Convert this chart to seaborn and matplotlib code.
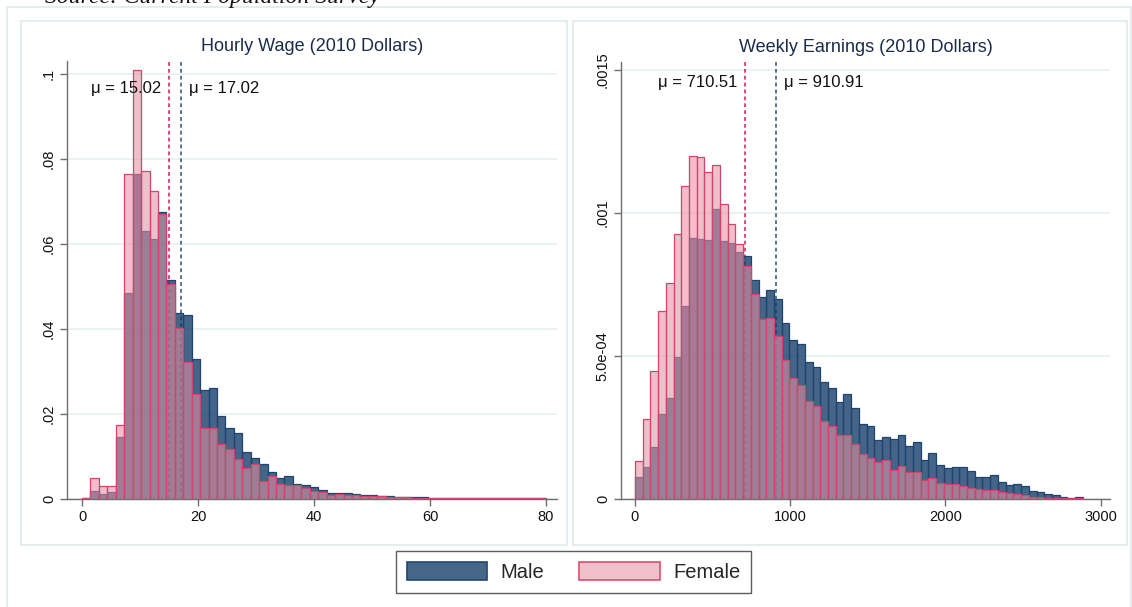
import numpy as np
import pandas as pd
import matplotlib
matplotlib.use("Agg")
import matplotlib.pyplot as plt
import seaborn as sns
from matplotlib.patches import Patch, Rectangle

# bin heights (density)
wage_edges_range = (0, 80)
wage_male = [0.0003, 0.0019, 0.0012, 0.0017, 0.0147, 0.0485, 0.0765, 0.0631, 0.0612, 0.0676,
             0.0515, 0.0437, 0.0432, 0.0329, 0.0256, 0.0262, 0.0195, 0.0168, 0.0155, 0.0111,
             0.0096, 0.0082, 0.0063, 0.0049, 0.0055, 0.0035, 0.0032, 0.0029, 0.0021, 0.0015,
             0.0015, 0.0013, 0.0011, 0.0010, 0.0009, 0.0008, 0.0007, 0.0005, 0.0005, 0.0004,
             0.0004, 0.0003, 0.0003, 0.0003, 0.0003, 0.0002, 0.0002, 0.0002, 0.0002, 0.0002,
             0.0002, 0.0002, 0.0002, 0.0002, 0.0003]
wage_female = [0.0002, 0.0049, 0.0031, 0.0031, 0.0174, 0.0765, 0.1009, 0.0772, 0.0725, 0.0672,
               0.0505, 0.0402, 0.0322, 0.0247, 0.0166, 0.0167, 0.0129, 0.0117, 0.0093, 0.0074,
               0.0083, 0.0042, 0.0055, 0.0036, 0.0032, 0.0032, 0.0025, 0.0020, 0.0016, 0.0010,
               0.0012, 0.0010, 0.0009, 0.0008, 0.0007, 0.0006, 0.0005, 0.0004, 0.0004, 0.0003,
               0.0003, 0.0002, 0.0002, 0.0002, 0.0002, 0.0002, 0.0002, 0.0002, 0.0002, 0.0002,
               0.0002, 0.0002, 0.0002, 0.0002, 0.0002]

earn_edges_range = (0, 2885)
earn_male = [0.0000758, 0.000111, 0.000181, 0.000297, 0.000354, 0.000498, 0.000676, 0.000914,
             0.000908, 0.000906, 0.001013, 0.000903, 0.000894, 0.000865, 0.000851, 0.000766,
             0.000707, 0.000731, 0.000698, 0.000614, 0.000555, 0.000543, 0.00048, 0.000462,
             0.000408, 0.000389, 0.000339, 0.000367, 0.000319, 0.000261, 0.000256, 0.000207,
             0.000218, 0.00021, 0.000225, 0.000186, 0.000199, 0.000136, 0.000161, 0.00012,
             0.000109, 0.000113, 0.000113, 0.0000967, 0.0000769, 0.0000769, 0.0000828,
             0.0000594, 0.000049, 0.0000524, 0.0000443, 0.000029, 0.0000256, 0.0000163,
             0.000014, 0.000008, 0.000004, 0.000008]
earn_female = [0.000134, 0.00028, 0.000448, 0.000658, 0.000754, 0.000925, 0.001094, 0.0012,
               0.001197, 0.001143, 0.001168, 0.00103, 0.000963, 0.000892, 0.000815, 0.000716,
               0.000628, 0.000632, 0.000571, 0.000486, 0.000422, 0.000399, 0.000343, 0.000325,
               0.000273, 0.000255, 0.000223, 0.000223, 0.000193, 0.000156, 0.000144, 0.000128,
               0.000135, 0.000102, 0.000114, 0.0000933, 0.0000945, 0.0000664, 0.0000723,
               0.000057, 0.0000513, 0.0000513, 0.0000466, 0.0000396, 0.000034, 0.0000315,
               0.0000315, 0.0000233, 0.00002, 0.0000163, 0.000014, 0.000008, 0.000007,
               0.000005, 0.000004, 0.000003, 0.000003, 0.000002]

wage_means = {"Male": 17.02, "Female": 15.02}
earn_means = {"Male": 910.91, "Female": 710.51}

titles = ["Hourly Wage (2010 Dollars)", "Weekly Earnings (2010 Dollars)"]
wage_yticks = [0, 0.02, 0.04, 0.06, 0.08, 0.1]
wage_ylabels = ["0", ".02", ".04", ".06", ".08", ".1"]
earn_yticks = [0, 0.0005, 0.001, 0.0015]
earn_ylabels = ["0", "5.0e-04", ".001", ".0015"]

sns.set_theme(style="white")
plt.rcParams["font.family"] = ["Liberation Sans", "DejaVu Sans"]

MALE_FACE, MALE_EDGE = "#0f3a66", "#1d4570"
FEM_FACE, FEM_EDGE = "#e88fa4", "#d2456a"
GRID = "#e6eff0"

fig = plt.figure(figsize=(11.32, 6.07), dpi=100)
W, H = 1132, 607


def px_axes(x0, y0, x1, y1):
    return fig.add_axes([x0 / W, 1 - y1 / H, (x1 - x0) / W, (y1 - y0) / H])


# panel frames
for (x0, y0, x1, y1) in [(7, 7, 1131, 640), (21, 21, 567, 545), (573, 21, 1127, 545)]:
    fig.patches.append(Rectangle((x0 / W, 1 - y1 / H), (x1 - x0) / W, (y1 - y0) / H,
                                 transform=fig.transFigure, fill=False,
                                 edgecolor="#e2eaeb", linewidth=1.2, zorder=0))

ax1 = px_axes(67, 61, 557, 499)
ax2 = px_axes(621, 62, 1110, 499)


def draw_panel(ax, rng, male, female, means, xlim, ylim, yticks, ylabels, xticks, title, ytext):
    n = len(male)
    width = (rng[1] - rng[0]) / n
    centers = rng[0] + width * (np.arange(n) + 0.5)
    for vals, face, edge, a, z in [(male, MALE_FACE, MALE_EDGE, 0.78, 2),
                                   (female, FEM_FACE, FEM_EDGE, 0.57, 3)]:
        df = pd.DataFrame({"x": centers, "h": vals})
        sns.histplot(data=df, x="x", weights="h", bins=n, binrange=rng, stat="count", ax=ax,
                     color=face, alpha=a, edgecolor=edge, linewidth=0.9, zorder=z)
    ax.axvline(means["Female"], color="#cc1f4e", ls=(0, (2.5, 2)), lw=1.1, zorder=1)
    ax.axvline(means["Male"], color="#2e4f75", ls=(0, (2.5, 2)), lw=1.1, zorder=1)
    ax.annotate(f"\u03bc = {means['Female']:.2f}", xy=(means["Female"], ytext),
                xytext=(-8, 0), textcoords="offset pixels", ha="right", va="center",
                fontsize=12, color="#111111")
    ax.annotate(f"\u03bc = {means['Male']:.2f}", xy=(means["Male"], ytext),
                xytext=(8, 0), textcoords="offset pixels", ha="left", va="center",
                fontsize=12, color="#111111")
    ax.set_xlim(*xlim)
    ax.set_ylim(*ylim)
    ax.set_yticks(yticks)
    ax.set_yticklabels(ylabels, rotation=90, va="center", fontsize=10.5)
    ax.set_xticks(xticks)
    ax.set_xticklabels([str(t) for t in xticks], fontsize=10.5)
    ax.set_xlabel("")
    ax.set_ylabel("")
    ax.yaxis.grid(True, color=GRID, lw=1.1)
    ax.set_axisbelow(True)
    for s in ["top", "right"]:
        ax.spines[s].set_visible(False)
    for s in ["left", "bottom"]:
        ax.spines[s].set_color("#6e6e6e")
        ax.spines[s].set_linewidth(1.0)
    ax.tick_params(axis="both", direction="out", length=5, width=1, color="#6e6e6e",
                   labelcolor="#111111", pad=3, left=True, bottom=True)
    ax.set_title(title, fontsize=13, color="#1a2b4a", pad=7)
    ax.set_facecolor("white")


draw_panel(ax1, wage_edges_range, wage_male, wage_female, wage_means,
           (-2.59, 81.9), (0, 0.1031), wage_yticks, wage_ylabels, [0, 20, 40, 60, 80],
           titles[0], 0.0967)
draw_panel(ax2, earn_edges_range, earn_male, earn_female, earn_means,
           (-90, 3060), (0, 0.001528), earn_yticks, earn_ylabels, [0, 1000, 2000, 3000],
           titles[1], 0.001458)

handles = [Patch(facecolor="#44678a", edgecolor="#23466e", linewidth=1.2, label="Male"),
           Patch(facecolor="#f2bfcb", edgecolor="#d9506f", linewidth=1.2, label="Female")]
leg = fig.legend(handles=handles, loc="center", bbox_to_anchor=(573.5 / W, 1 - 572 / H),
                 ncol=2, fontsize=14.5, frameon=True, fancybox=False, handlelength=4.0,
                 handleheight=1.0, handletextpad=0.65, columnspacing=1.75, borderpad=0.55)
leg.get_frame().set_edgecolor("#333333")
leg.get_frame().set_linewidth(1.0)

# source note sits at the very top edge and is clipped, as in the original
fig.text(45 / W, 1 - 3 / H, "Source: Current Population Survey", fontsize=17,
         family="Liberation Serif", style="italic", color="#111111", va="baseline")

fig.savefig("out.png", dpi=100, facecolor="white")
